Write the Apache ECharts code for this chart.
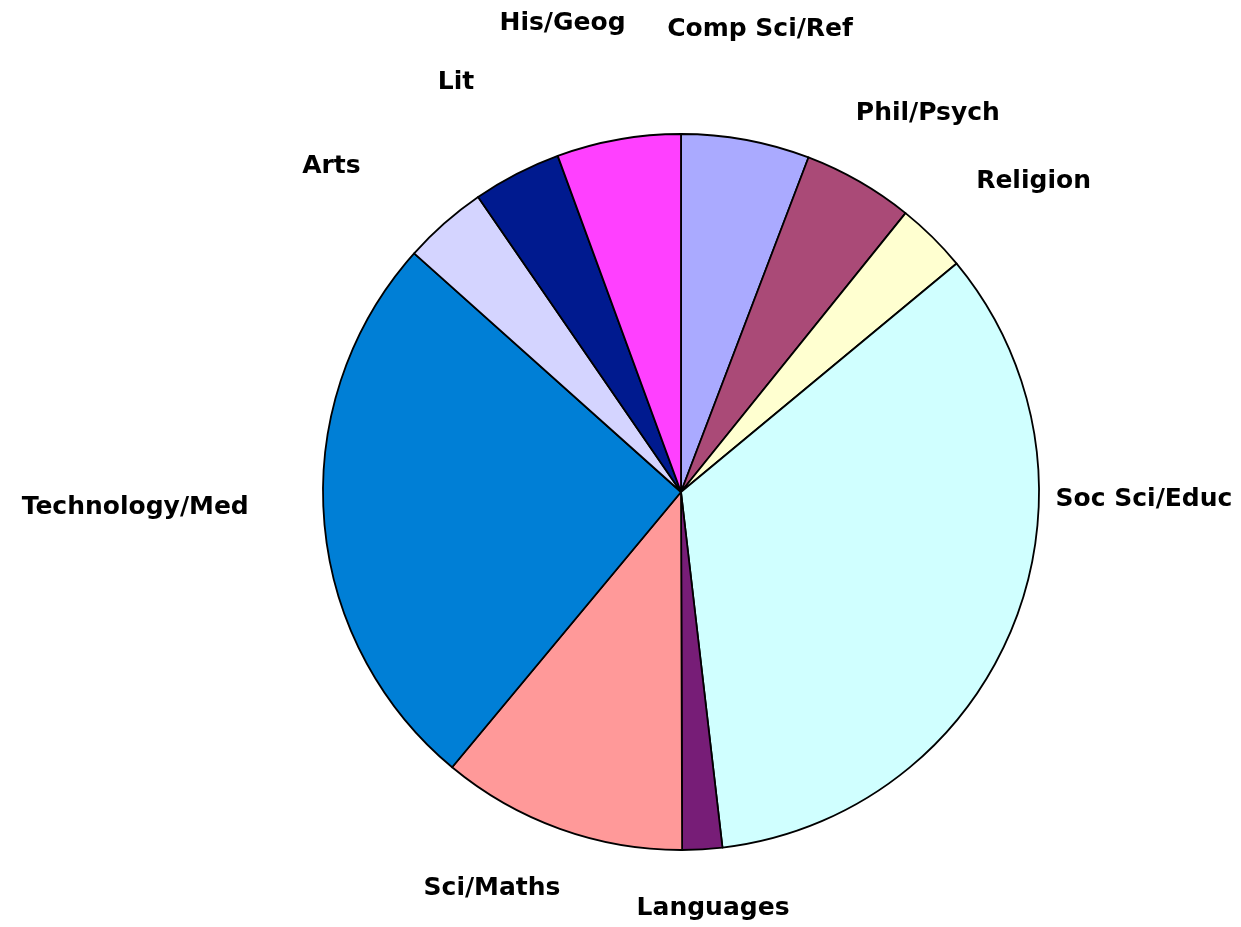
<!DOCTYPE html>
<html>
<head>
<meta charset="utf-8">
<title>Stock by subject</title>
<script src="https://cdn.jsdelivr.net/npm/echarts@6/dist/echarts.min.js"></script>
<style>
  html, body { margin: 0; padding: 0; background: #fff; }
  #chart { width: 1241px; height: 927px; }
</style>
</head>
<body>
<div id="chart"></div>
<script>
  // subjects, clockwise from 12 o'clock
  const categories = ['Comp Sci/Ref', 'Phil/Psych', 'Religion', 'Soc Sci/Educ', 'Languages',
    'Sci/Maths', 'Technology/Med', 'Arts', 'Lit', 'His/Geog']
  // share of stock (%)
  const values = [5.8, 5.0, 3.2, 34.2, 1.8, 11.1, 25.6, 3.8, 4.0, 5.6]
  const colors = ['#aaaaff', '#aa4a77', '#ffffd0', '#d0ffff', '#771d77',
    '#ff9999', '#007fd6', '#d4d4ff', '#001a8f', '#ff40ff']

  // layout
  const CX = 681, CY = 492, R = 358
  // where Excel's "best fit" put each label: [angle from 12 o'clock (deg), distance from pie centre (px)]
  const labelPolar = [
    [9.7, 469], [33.1, 452], [48.6, 470], [90.9, 463], [175.6, 418],
    [205.5, 439], [268.4, 546], [313.0, 478], [331.2, 467], [345.8, 483]
  ]

  const chart = echarts.init(document.getElementById('chart'))

  const option = {
    animation: false,
    series: [{
      type: 'pie',
      center: [CX, CY],
      radius: R,
      startAngle: 90,
      clockwise: true,
      avoidLabelOverlap: false,
      data: categories.map((name, i) => ({
        name: name,
        value: values[i],
        itemStyle: { color: colors[i] }
      })),
      itemStyle: {
        borderColor: '#000',
        borderWidth: 1.8
      },
      label: {
        show: true,
        position: 'outside',
        color: '#000',
        fontFamily: 'DejaVu Sans',
        fontWeight: 'bold',
        fontSize: 25
      },
      labelLine: { show: false },
      emphasis: { disabled: true },
      labelLayout: function (params) {
        const p = labelPolar[params.dataIndex]
        const a = p[0] * Math.PI / 180
        return {
          x: CX + Math.sin(a) * p[1],
          y: CY - Math.cos(a) * p[1],
          align: 'center',
          verticalAlign: 'middle'
        }
      }
    }]
  }

  chart.setOption(option)
</script>
</body>
</html>
